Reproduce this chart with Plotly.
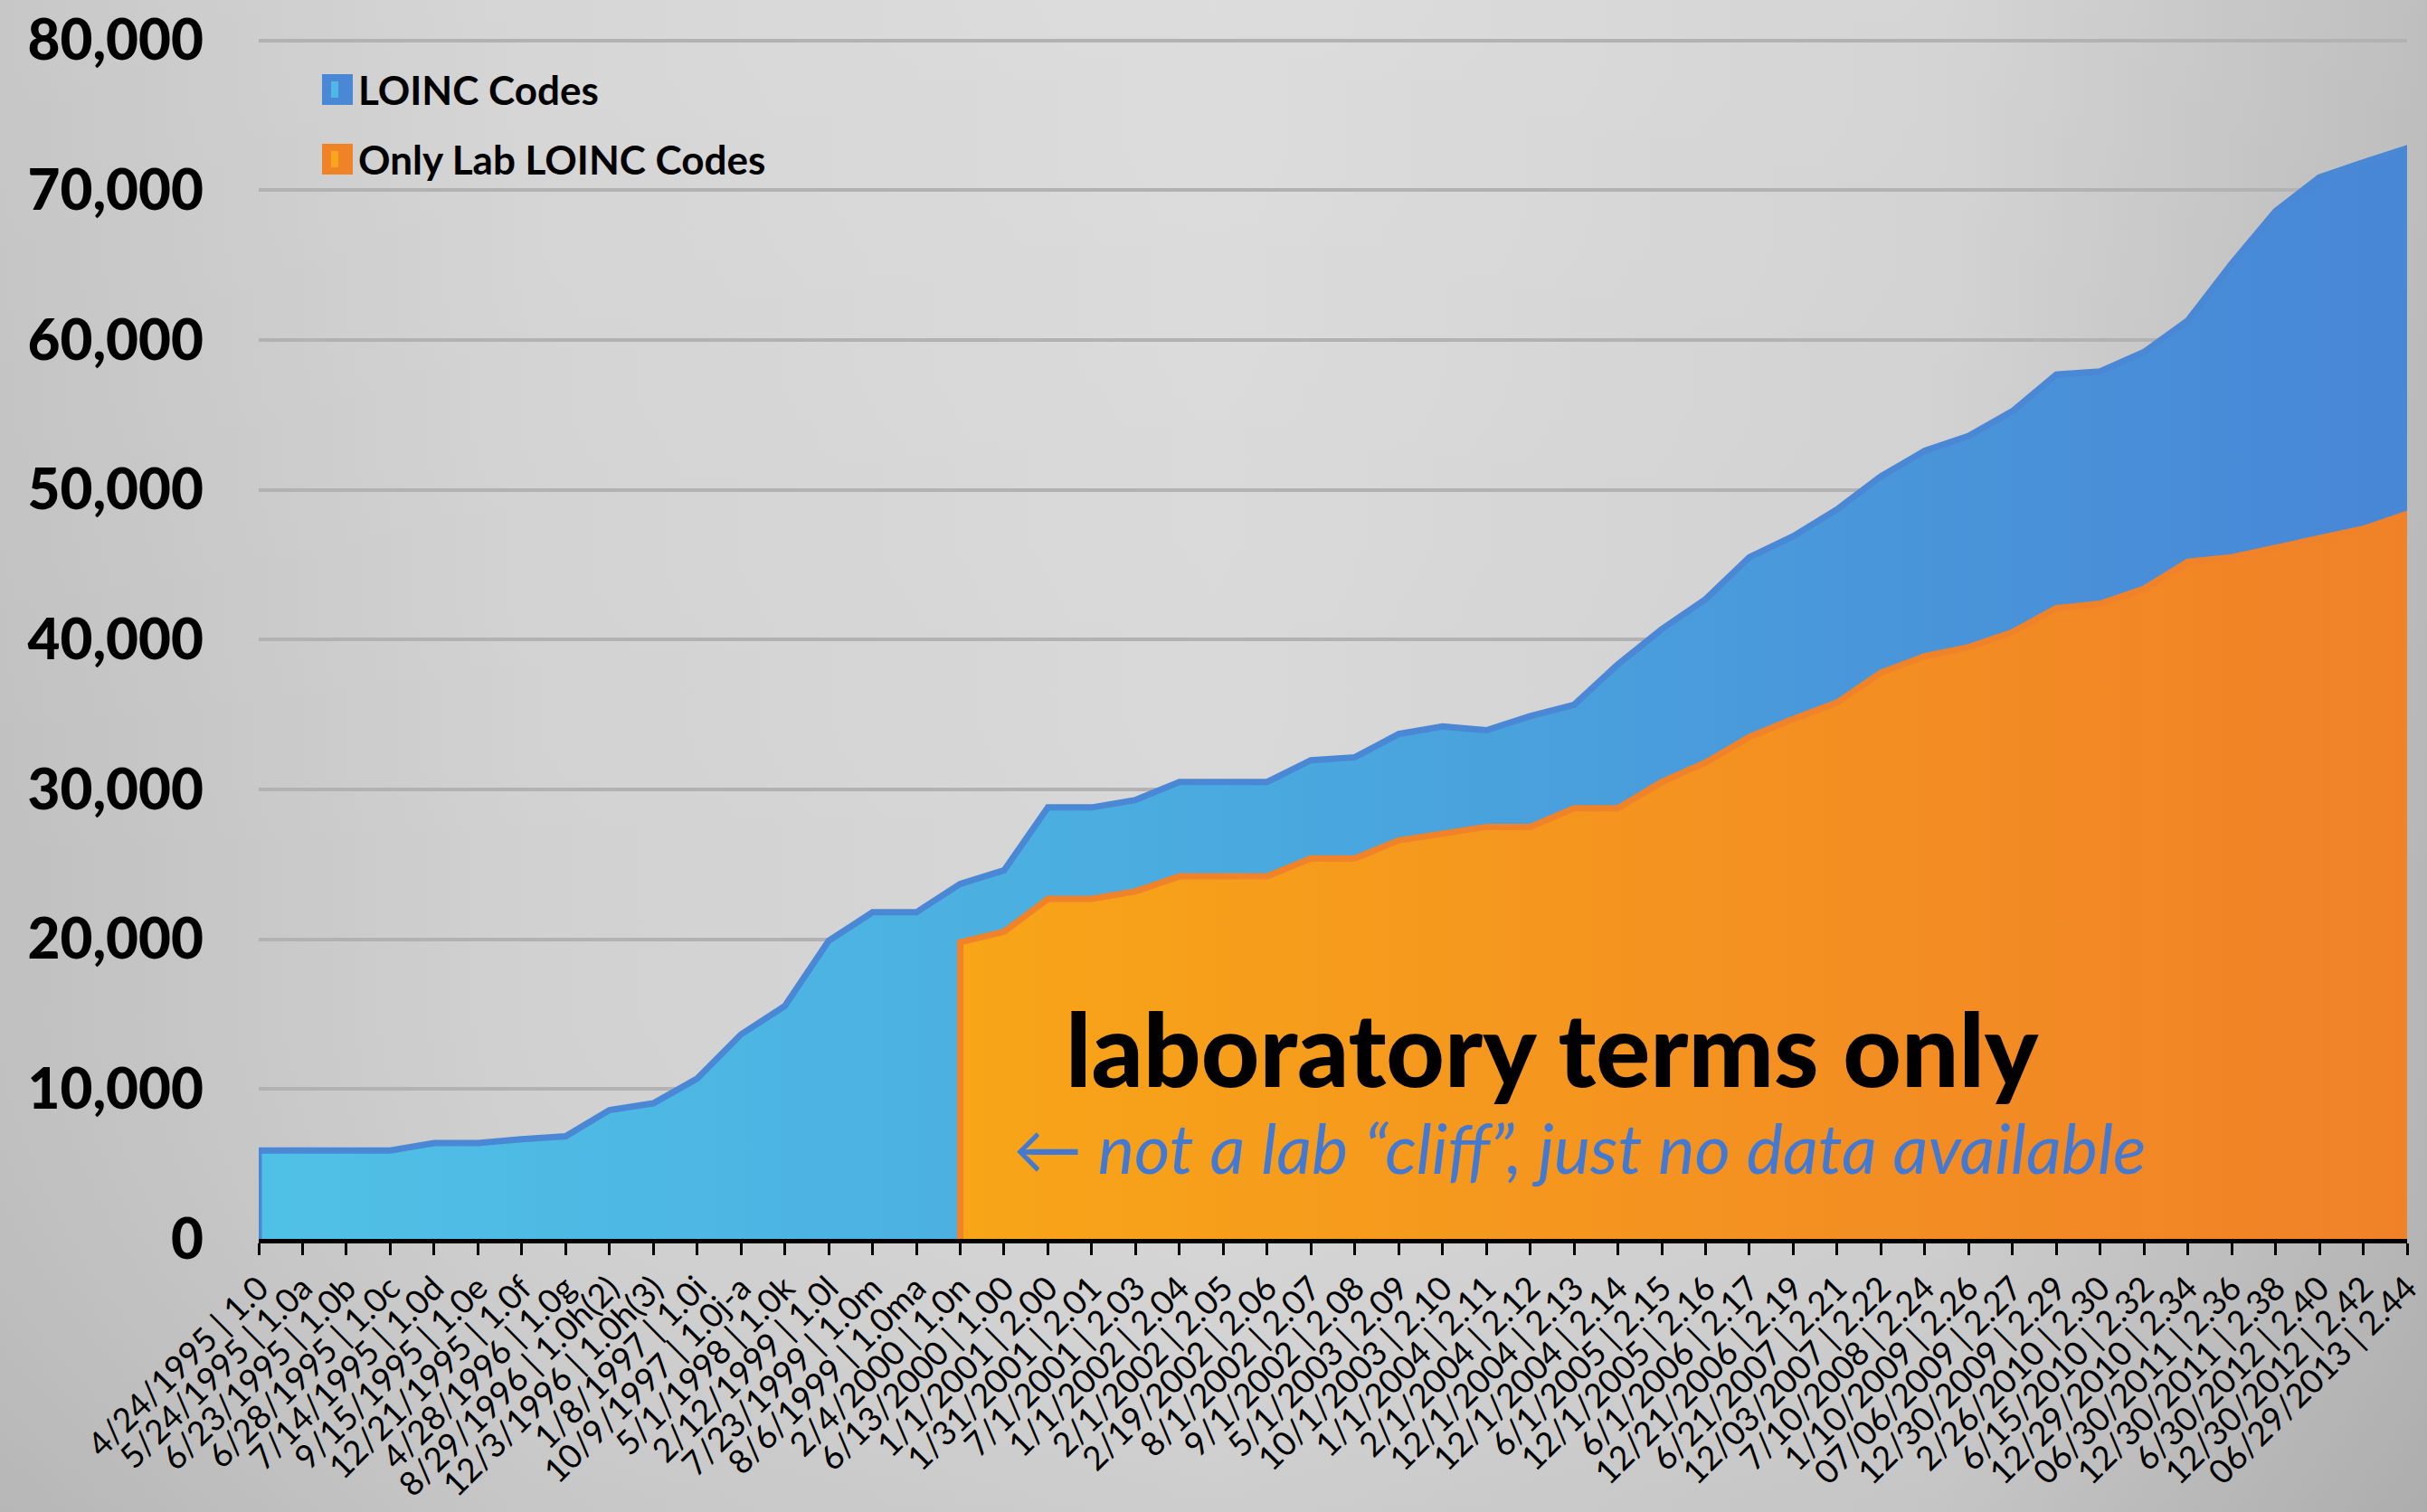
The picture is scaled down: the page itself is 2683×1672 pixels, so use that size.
import base64
import plotly.graph_objects as go

# ---------------- data ----------------
categories = [
    "4/24/1995 | 1.0", "5/24/1995 | 1.0a", "6/23/1995 | 1.0b", "6/28/1995 | 1.0c",
    "7/14/1995 | 1.0d", "9/15/1995 | 1.0e", "12/21/1995 | 1.0f", "4/28/1996 | 1.0g",
    "8/29/1996 | 1.0h(2)", "12/3/1996 | 1.0h(3)", "1/8/1997 | 1.0i", "10/9/1997 | 1.0j-a",
    "5/1/1998 | 1.0k", "2/12/1999 | 1.0l", "7/23/1999 | 1.0m", "8/6/1999 | 1.0ma",
    "2/4/2000 | 1.0n", "6/13/2000 | 1.00", "1/1/2001 | 2.00", "1/31/2001 | 2.01",
    "7/1/2001 | 2.03", "1/1/2002 | 2.04", "2/1/2002 | 2.05", "2/19/2002 | 2.06",
    "8/1/2002 | 2.07", "9/1/2002 | 2.08", "5/1/2003 | 2.09", "10/1/2003 | 2.10",
    "1/1/2004 | 2.11", "2/1/2004 | 2.12", "12/1/2004 | 2.13", "12/1/2004 | 2.14",
    "6/1/2005 | 2.15", "12/1/2005 | 2.16", "6/1/2006 | 2.17", "12/21/2006 | 2.19",
    "6/21/2007 | 2.21", "12/03/2007 | 2.22", "7/10/2008 | 2.24", "1/10/2009 | 2.26",
    "07/06/2009 | 2.27", "12/30/2009 | 2.29", "2/26/2010 | 2.30", "6/15/2010 | 2.32",
    "12/29/2010 | 2.34", "06/30/2011 | 2.36", "12/30/2011 | 2.38", "6/30/2012 | 2.40",
    "12/30/2012 | 2.42", "06/29/2013 | 2.44",
]

loinc_codes = [
    5900, 5900, 5900, 5900, 6400, 6400, 6650, 6850, 8600, 9050,
    10700, 13650, 15550, 19900, 21800, 21800, 23700, 24600, 28800, 28800,
    29300, 30500, 30500, 30500, 31950, 32150, 33700, 34200, 33950, 34900,
    35650, 38350, 40700, 42700, 45500, 46900, 48700, 50900, 52600, 53600,
    55250, 57700, 57900, 59200, 61300, 65100, 68600, 70850, 71850, 72800,
]

# lab-only series has no data before "2/4/2000 | 1.0n"
lab_start = "2/4/2000 | 1.0n"
lab_loinc_codes = [
    19800, 20500, 22700, 22700, 23200, 24200, 24200, 24200, 25400, 25400,
    26600, 27000, 27500, 27500, 28750, 28750, 30500, 31800, 33500, 34700,
    35800, 37800, 38900, 39500, 40500, 42100, 42400, 43400, 45200, 45500,
    46100, 46800, 47400, 48400,
]

series_names = ["LOINC Codes", "Only Lab LOINC Codes"]
y_ticks = [0, 10000, 20000, 30000, 40000, 50000, 60000, 70000, 80000]

main_label = "laboratory terms only"
note_label = "\u2190 not a lab \u201ccliff\u201d, just no data available"

# ---------------- geometry ----------------
W, H = 2683, 1672
Y_MAX = 80400
ML, MR, MT, MB = 286, 22, 38, 302
PW, PH = W - ML - MR, H - MT - MB


def px_x(x):
    return (x - ML) / PW


def px_y(y):
    return (H - MB - y) / PH


def closed_area(xs, ys):
    """Polygon along the series and back along the zero baseline."""
    return [xs[0]] + list(xs) + [xs[-1]], [0] + list(ys) + [0]


BLUE_LINE = "#4a87d5"
ORANGE_LINE = "#f0822a"
HEAVY = "Lato Black, Lato Heavy, Lato"

fig = go.Figure()

bx, by = closed_area(categories, loinc_codes)
fig.add_trace(go.Scatter(
    x=bx, y=by, name=series_names[0], mode="lines", fill="toself",
    line=dict(color=BLUE_LINE, width=7, shape="linear"),
    fillgradient=dict(type="horizontal",
                      colorscale=[[0, "#50c1e6"], [0.45, "#4aaadf"], [1, "#4886d6"]]),
    hoverinfo="skip", showlegend=False,
))

i0 = categories.index(lab_start)
ox, oy = closed_area(categories[i0:], lab_loinc_codes)
fig.add_trace(go.Scatter(
    x=ox, y=oy, name=series_names[1], mode="lines", fill="toself",
    line=dict(color=ORANGE_LINE, width=7, shape="linear"),
    fillgradient=dict(type="horizontal",
                      colorscale=[[0, "#f8a518"], [1, "#f08128"]]),
    hoverinfo="skip", showlegend=False,
))

# ---------------- background (brushed grey) ----------------
svg = (
    f'<svg xmlns="http://www.w3.org/2000/svg" width="{W}" height="{H}">'
    '<defs>'
    '<linearGradient id="h" x1="0" y1="0" x2="1" y2="0">'
    '<stop offset="0" stop-color="#c0c0c0"/>'
    '<stop offset="0.22" stop-color="#d1d1d1"/>'
    '<stop offset="0.5" stop-color="#d8d8d8"/>'
    '<stop offset="0.8" stop-color="#cfcfcf"/>'
    '<stop offset="1" stop-color="#b6b6b6"/>'
    '</linearGradient>'
    '<linearGradient id="v" x1="0" y1="0" x2="0" y2="1">'
    '<stop offset="0" stop-color="#ffffff" stop-opacity="0.12"/>'
    '<stop offset="0.6" stop-color="#ffffff" stop-opacity="0"/>'
    '<stop offset="1" stop-color="#000000" stop-opacity="0.05"/>'
    '</linearGradient>'
    '</defs>'
    '<rect width="100%" height="100%" fill="url(#h)"/>'
    '<rect width="100%" height="100%" fill="url(#v)"/>'
    '</svg>'
)
bg_src = "data:image/svg+xml;base64," + base64.b64encode(svg.encode()).decode()

layout_images = [dict(
    source=bg_src, xref="paper", yref="paper",
    x=-ML / PW, y=1 + MT / PH, sizex=W / PW, sizey=H / PH,
    xanchor="left", yanchor="top", sizing="stretch", layer="below",
)]

# ---------------- legend (drawn as shapes + text) ----------------
shapes = []
annotations = []
legend_rows = [(series_names[0], 99, "#4a88d6", "#4fb8e6"),
               (series_names[1], 176, "#f08228", "#f8a61c")]
for name, cy, c_out, c_in in legend_rows:
    shapes.append(dict(type="rect", xref="paper", yref="paper",
                       x0=px_x(356), x1=px_x(390), y0=px_y(cy + 17), y1=px_y(cy - 17),
                       fillcolor=c_out, line=dict(width=0), layer="above"))
    shapes.append(dict(type="rect", xref="paper", yref="paper",
                       x0=px_x(366), x1=px_x(374), y0=px_y(cy + 9), y1=px_y(cy - 9),
                       fillcolor=c_in, line=dict(width=0), layer="above"))
    annotations.append(dict(
        text=name, xref="paper", yref="paper", x=px_x(394), y=px_y(cy),
        xanchor="left", yanchor="middle", showarrow=False,
        font=dict(family="Lato", size=44, color="#000000", weight=700),
    ))

annotations.append(dict(
    text=main_label, xref="paper", yref="paper", x=px_x(1716), y=px_y(1158),
    xanchor="center", yanchor="middle", showarrow=False,
    font=dict(family=HEAVY, size=112, color="#000000", weight=900),
))
annotations.append(dict(
    text=note_label, xref="paper", yref="paper", x=px_x(1746), y=px_y(1268),
    xanchor="center", yanchor="middle", showarrow=False,
    font=dict(family="Lato", size=76, color="#4479d2", style="italic", weight=400),
))

fig.update_layout(
    width=W, height=H,
    margin=dict(l=ML, r=MR, t=MT, b=MB, pad=0, autoexpand=False),
    paper_bgcolor="#d0d0d0",
    plot_bgcolor="rgba(0,0,0,0)",
    showlegend=False,
    images=layout_images,
    shapes=shapes,
    annotations=annotations,
    xaxis=dict(
        type="category", categoryorder="array", categoryarray=categories,
        range=[0, len(categories) - 1],
        tickmode="array", tickvals=categories, ticktext=categories,
        tickangle=-45, automargin=False,
        tickfont=dict(family="Lato", size=37, color="#000000"),
        ticks="outside", ticklen=13, tickwidth=2.5, tickcolor="#000000",
        showline=True, linecolor="#000000", linewidth=5,
        showgrid=False, zeroline=False,
    ),
    yaxis=dict(
        range=[0, Y_MAX], tickmode="array", tickvals=y_ticks,
        tickformat=",d", automargin=False, ticklabeloverflow="allow",
        tickfont=dict(family=HEAVY, size=62, color="#000000", weight=900),
        ticklabelstandoff=60,
        showgrid=True, gridcolor="#b2b2b2", gridwidth=4,
        zeroline=False, showline=False, ticks="",
    ),
)

fig.write_html("out.html")
